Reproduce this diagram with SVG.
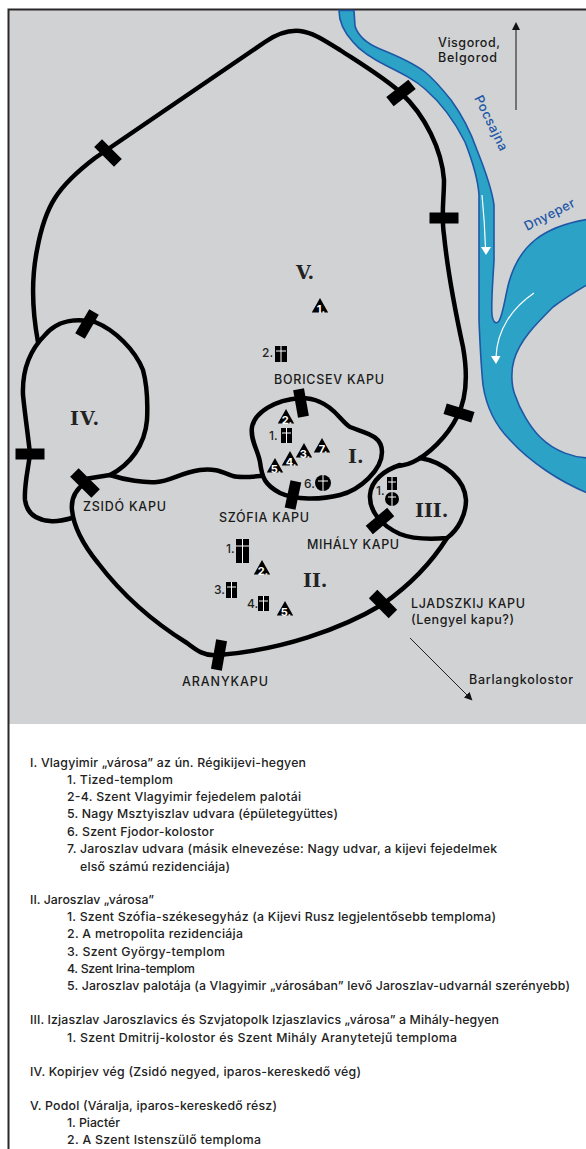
<svg xmlns="http://www.w3.org/2000/svg" xmlns:xlink="http://www.w3.org/1999/xlink" width="586" height="1149" viewBox="0 0 586 1149">
<style>
.wall{fill:none;stroke:#000;stroke-width:4.5;stroke-linecap:round;stroke-linejoin:round}
.gate{fill:#000}
.river{fill:#2ca3c6;stroke:#1d57a6;stroke-width:1.6}
.flow{fill:none;stroke:#fff;stroke-width:1.2}
.t{font-family:"Inter","Open Sans","Liberation Sans",sans-serif;font-size:12.300px;fill:#222;font-weight:500}
.l{font-family:"Inter","Open Sans","Liberation Sans",sans-serif;font-size:12.500px;fill:#1a1a1a;font-weight:500}
.b{font-family:"Inter","Open Sans","Liberation Sans",sans-serif;font-size:13px;fill:#1d57a6;font-weight:500}
.r{font-family:"DejaVu Serif",serif;font-size:19px;fill:#222;font-weight:700}
.n{font-family:"Inter","Open Sans","Liberation Sans",sans-serif;font-size:12px;fill:#222;font-weight:500}
.w{font-family:"Inter","Open Sans","Liberation Sans",sans-serif;font-size:11px;fill:#fff;font-weight:700;text-anchor:middle}
.c{stroke:#fff;stroke-width:1;fill:none}
</style>
<defs>
<marker id="ah" markerWidth="10" markerHeight="10" refX="6" refY="4" orient="auto" markerUnits="userSpaceOnUse"><path d="M0 0L8 4L0 8Z" fill="#111"/></marker>
<polygon id="tri" points="0,0 8.2,14.5 -8.2,14.5" fill="#000"/>
</defs>
<rect x="9" y="10" width="577" height="714" fill="#d1d2d4"/>
<path d="M8.500 1149V9.500H586" fill="none" stroke="#2b2728" stroke-width="2"/>
<g id="rivers">
<path id="pocsajna-dnyeper" class="river" d="M339 10.500 C339 20 342 30 353 42 C362 53 375 60 387 66 C403 74 415 80 425 89 C440 102 455 122 465 142 C472 160 478 178 479 195 L479 320 C480 345 481 365 483 385 C486 405 495 425 510 440 C530 462 560 482 590 494 L590 458 C575 458 555 452 540 437 C530 427 520 410 515 395 C511 385 511 370 514 360 C520 340 535 325 553 307 C565 298 578 290 590 283 L590 219 C570 222 550 228 535 240 C520 252 513 268 509 282 C505 297 503 315 499 321 C496 325 493 322 492 315 C491 300 493 280 494 260 L494 205 C492 190 485 170 477 150 C470 130 462 115 451 100 C443 90 435 80 425 72 C412 62 395 55 380 49 C368 44 358 36 355 26 L354 10.500Z"/>
<path class="flow" d="M482 195C484 215 485 232 485.500 248"/>
<polygon points="481,247 491,247 486,255" fill="#fff"/>
<path class="flow" d="M534 293C512 308 497 330 496 357"/>
<polygon points="491,356 500.500,356 496,364" fill="#fff"/>
</g>
<g id="connectors">
<path class="wall" d="M38 342 C33 315 31 280 37 250 C41 228 46 212 55 198 C62 187 74 174 95 158 L265 42 C278 33 290 30 300 31 C315 33 328 43 340 50 C355 60 385 78 401 93 C425 115 442 150 444 180 C444 200 441 215 444 235 C447 265 455 310 463 347 C468 375 466 400 457 417 C447 437 428 455 413 462 C405 466 402 465 398 466"/>
<path class="wall" d="M400 465 C385 470 371 480 370 495 C369 510 380 525 400 534 C415 540 435 539 447 538 C458 530 466 515 466 500 C465 480 445 462 420 458"/>
<path class="wall" d="M447 538 C430 565 410 585 383 604 C340 630 280 650 219 655 C205 657 196 650 187 643 C150 620 120 592 98 563 C85 547 74 530 72 510 C71 500 75 490 85 483"/>
<path class="wall" d="M85 479 L110 475 C125 480 145 483 157 482 C170 481 180 473 200 470 C215 468 222 472 233 476 C240 478 250 477 261 476"/>
<path class="wall" d="M110 475 C130 465 145 445 147 420 C148 400 147 385 143 370 C135 350 115 330 95 322 C75 318 58 320 45 335 C30 350 22 370 23 395 C25 415 28 435 30 454 C28 470 24 485 25 500 C27 515 38 520 50 521 C58 522 65 520 72 518"/>
<path class="wall" d="M300 398 C275 400 255 412 252 427 C250 440 258 450 260 462 C262 478 265 485 280 493 C295 500 320 500 340 495 C360 490 382 470 382 452 C382 435 365 433 350 427 C340 420 335 408 320 402 C312 398 305 398 300 398Z"/>
<path d="M516 110V24" stroke="#333" stroke-width="1.2" fill="none" marker-end="url(#ah)"/>
<path d="M410 638L471 699" stroke="#222" stroke-width="1" fill="none" marker-end="url(#ah)"/>
</g>
<g id="gates">
<rect class="gate" x="-14" y="-5.500" width="28" height="11" transform="translate(108 153) rotate(45)"/>
<rect class="gate" x="-14" y="-6" width="28" height="12" transform="translate(401 93) rotate(-38)"/>
<rect class="gate" x="-14.500" y="-5.500" width="29" height="11" transform="translate(444 218)"/>
<rect class="gate" x="-14.500" y="-5.500" width="29" height="11" transform="translate(459 413) rotate(17)"/>
<rect class="gate" x="-14" y="-5.500" width="28" height="11" transform="translate(87 324) rotate(-60)"/>
<rect class="gate" x="-14.500" y="-5.500" width="29" height="11" transform="translate(30 454)"/>
<rect class="gate" x="-15" y="-6" width="30" height="12" transform="translate(85 483) rotate(45)"/>
<rect class="gate" x="-14" y="-5.500" width="28" height="11" transform="translate(301 403) rotate(80)"/>
<rect class="gate" x="-14" y="-5.500" width="28" height="11" transform="translate(293 495) rotate(-78)"/>
<rect class="gate" x="-14" y="-5.500" width="28" height="11" transform="translate(380 521) rotate(-40)"/>
<rect class="gate" x="-14" y="-6" width="28" height="12" transform="translate(383 604) rotate(45)"/>
<rect class="gate" x="-15" y="-5.500" width="30" height="11" transform="translate(219 655) rotate(100)"/>
</g>
<g id="labels">
<text class="r" x="296" y="279">V.</text>
<text class="r" x="70" y="425" textLength="29">IV.</text>
<text class="r" x="348" y="463">I.</text>
<text class="r" x="303" y="587">II.</text>
<text class="r" x="415" y="517">III.</text>
<text class="l" x="274" y="384" textLength="110">BORICSEV KAPU</text>
<text class="l" x="219" y="522" textLength="90">SZÓFIA KAPU</text>
<text class="l" x="307" y="549" textLength="92">MIHÁLY KAPU</text>
<text class="l" x="83" y="511" textLength="83">ZSIDÓ KAPU</text>
<text class="l" x="411" y="608" textLength="114">LJADSZKIJ KAPU</text>
<text class="l" x="411" y="624" textLength="103">(Lengyel kapu?)</text>
<text class="l" x="182" y="686" textLength="86">ARANYKAPU</text>
<text class="l" x="469" y="684" textLength="104">Barlangkolostor</text>
<text class="l" x="438" y="47" textLength="62">Visgorod,</text>
<text class="l" x="438" y="62" textLength="59">Belgorod</text>
<text class="b" transform="translate(474 98) rotate(64)" textLength="60">Pocsajna</text>
<text class="b" transform="translate(527 231) rotate(-27)" textLength="55">Dnyeper</text>
</g>
<g id="I-1"><rect x="281" y="428" width="11" height="15"/><path class="c" d="M286.500 428V443M282 433H291"/><text class="n" x="269" y="440">1.</text></g>
<g id="I-2"><use xlink:href="#tri" href="#tri" x="286" y="409"/><text class="w" x="287" y="423.500">2.</text></g>
<g id="I-3"><use xlink:href="#tri" href="#tri" x="304" y="443"/><text class="w" x="305" y="457.500">3.</text></g>
<g id="I-4"><use xlink:href="#tri" href="#tri" x="290" y="451"/><text class="w" x="291" y="465.500">4.</text></g>
<g id="I-5"><use xlink:href="#tri" href="#tri" x="275" y="458"/><text class="w" x="276" y="472.500">5.</text></g>
<g id="I-6"><circle cx="323" cy="483" r="8"/><path class="c" d="M323 475V491M318 481H328"/><text class="n" x="304" y="488">6.</text></g>
<g id="I-7"><use xlink:href="#tri" href="#tri" x="322" y="438"/><text class="w" x="323" y="452.500">7.</text></g>
<g id="II-1"><rect x="236" y="539" width="13" height="24"/><path class="c" d="M242.500 539V563M236 546H249"/><text class="n" x="226" y="553">1.</text></g>
<g id="II-2"><use xlink:href="#tri" href="#tri" x="262" y="560"/><text class="w" x="263" y="574.500">2.</text></g>
<g id="II-3"><rect x="226" y="582" width="11" height="16"/><path class="c" d="M231.500 582V598M227 587H236"/><text class="n" x="214" y="594">3.</text></g>
<g id="II-4"><rect x="258" y="596" width="11" height="15"/><path class="c" d="M263.500 596V611M259 601H268"/><text class="n" x="247" y="608">4.</text></g>
<g id="II-5"><use xlink:href="#tri" href="#tri" x="285" y="601"/><text class="w" x="286" y="615.500">5.</text></g>
<g id="III-1"><rect x="387" y="477" width="10" height="13"/><path class="c" d="M392 477V490M388 482H396"/><circle cx="392" cy="499" r="7"/><path class="c" d="M392 492V506M388 497H396"/><text class="n" x="376" y="495">1.</text></g>
<g id="V-1"><use xlink:href="#tri" href="#tri" x="320" y="298"/><text class="w" x="321" y="312.500">1.</text></g>
<g id="V-2"><rect x="275" y="346" width="12" height="16"/><path class="c" d="M281 346V362M276 351H286"/><text class="n" x="262" y="357">2.</text></g>
<g id="legend">
<text class="t" x="30" y="767" textLength="276">I. Vlagyimir „városa” az ún. Régikijevi-hegyen</text>
<text class="t" x="67" y="784" textLength="106">1. Tized-templom</text>
<text class="t" x="67" y="801" textLength="234">2-4. Szent Vlagyimir fejedelem palotái</text>
<text class="t" x="67" y="818" textLength="271">5. Nagy Msztyiszlav udvara (épületegyüttes)</text>
<text class="t" x="67" y="836" textLength="147">6. Szent Fjodor-kolostor</text>
<text class="t" x="67" y="853" textLength="430">7. Jaroszlav udvara (másik elnevezése: Nagy udvar, a kijevi fejedelmek</text>
<text class="t" x="80" y="871" textLength="150">első számú rezidenciája)</text>
<text class="t" x="30" y="904" textLength="124">II. Jaroszlav „városa”</text>
<text class="t" x="67" y="921" textLength="429">1. Szent Szófia-székesegyház (a Kijevi Rusz legjelentősebb temploma)</text>
<text class="t" x="67" y="938" textLength="176">2. A metropolita rezidenciája</text>
<text class="t" x="67" y="956" textLength="158">3. Szent György-templom</text>
<text class="t" x="67" y="973" textLength="128">4. Szent Irina-templom</text>
<text class="t" x="67" y="990" textLength="503">5. Jaroszlav palotája (a Vlagyimir „városában” levő Jaroszlav-udvarnál szerényebb)</text>
<text class="t" x="30" y="1024" textLength="469">III. Izjaszlav Jaroszlavics és Szvjatopolk Izjaszlavics „városa” a Mihály-hegyen</text>
<text class="t" x="67" y="1042" textLength="390">1. Szent Dmitrij-kolostor és Szent Mihály Aranytetejű temploma</text>
<text class="t" x="30" y="1076" textLength="331">IV. Kopirjev vég (Zsidó negyed, iparos-kereskedő vég)</text>
<text class="t" x="30" y="1110" textLength="247">V. Podol (Váralja, iparos-kereskedő rész)</text>
<text class="t" x="67" y="1127" textLength="53">1. Piactér</text>
<text class="t" x="67" y="1144" textLength="194">2. A Szent Istenszülő temploma</text>
</g>
</svg>
